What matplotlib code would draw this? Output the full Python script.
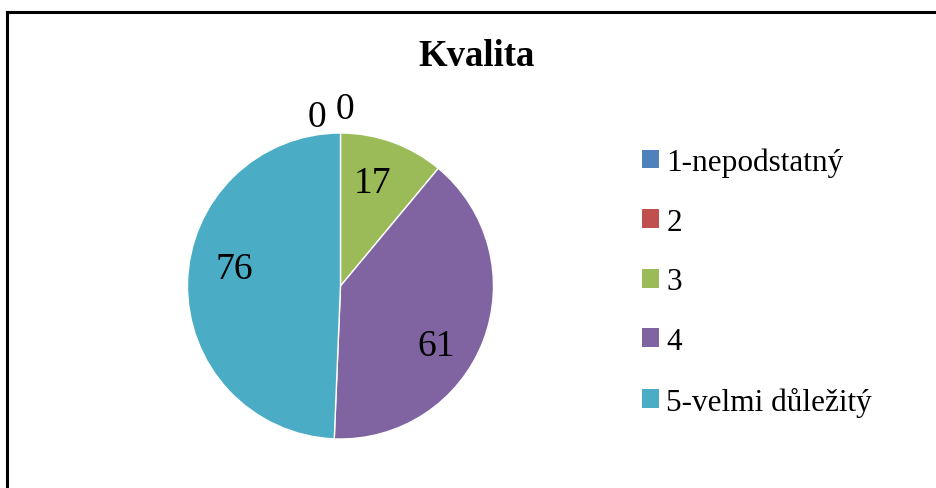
import matplotlib.pyplot as plt
from matplotlib.patches import Patch

plt.rcParams['font.family'] = ['Liberation Serif', 'DejaVu Serif']

title = "Kvalita"
categories = ["1-nepodstatný", "2", "3", "4", "5-velmi důležitý"]
values = [0, 0, 17, 61, 76]
colors = ["#4F81BD", "#C0504D", "#9BBB59", "#8064A2", "#4BACC6"]
# label positions in pie-radius units (baseline), same order as values
label_pos = [(-0.157, 1.046), (0.03, 1.098), (0.212, 0.614), (0.624, -0.451), (-0.696, 0.052)]

W, H = 936, 489
fig = plt.figure(figsize=(W / 100, H / 100), dpi=100)

# pie axes: centre (340.5, 287) px from top-left, radius 153 px
cx, cy, r = 340.5, 287, 153
ax = fig.add_axes([(cx - r) / W, (H - cy - r) / H, 2 * r / W, 2 * r / H])
ax.pie(values, colors=colors, startangle=90, counterclock=False, radius=1,
       wedgeprops=dict(linewidth=1, edgecolor='white'))
ax.set_xlim(-1, 1)
ax.set_ylim(-1, 1)
ax.set_aspect('auto')
ax.axis('off')

for v, (x, y) in zip(values, label_pos):
    ax.text(x, y, str(v), ha='center', va='baseline', fontsize=27, clip_on=False)

fig.text(477 / W, 1 - 66 / H, title, ha='center', va='baseline',
         fontsize=26.5, fontweight='bold')

handles = [Patch(facecolor=c, edgecolor='none') for c in colors]
fig.legend(handles, categories, loc='upper left', bbox_to_anchor=(629 / W, 1 - 136 / H),
           frameon=False, fontsize=22.5, handlelength=0.55, handleheight=0.55,
           handletextpad=0.25, labelspacing=0.98, borderaxespad=0)

# chart border (top and left edges visible)
fig.add_artist(plt.Line2D([7.5 / W, 1], [1 - 12.5 / H, 1 - 12.5 / H], color='black', lw=2.2))
fig.add_artist(plt.Line2D([7.5 / W, 7.5 / W], [0, 1 - 12.5 / H], color='black', lw=2.2))

fig.savefig('out.png', dpi=100)
